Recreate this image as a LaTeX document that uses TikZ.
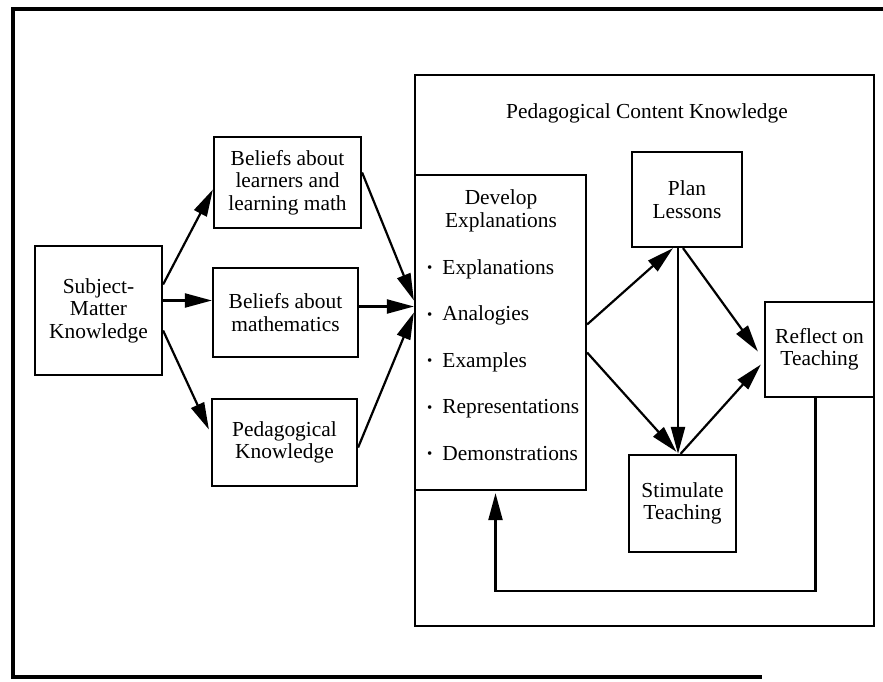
\documentclass[tikz,border=0pt]{standalone}
\usepackage{fontspec}
\setmainfont{Liberation Serif}
\usepackage{tikz}
\usetikzlibrary{shapes, arrows.meta, calc}
\tikzstyle{block} = [rectangle, draw=black, line width=2.2pt, text centered, align=center, inner sep=2pt]
\tikzstyle{item} = [anchor=base west, inner sep=0pt]
\tikzstyle{arrow} = [line width=2.2pt,->,>={Triangle[length=27pt,width=14pt]}]

\begin{document}
\begin{tikzpicture}[x=1pt, y=-1pt, font=\fontsize{21.4}{22.5}\selectfont]
				\useasboundingbox (0,0) rectangle (883,682);
				\draw [line width=3.5pt] (883,9) -- (13,9) -- (13,677) -- (762,677);

				\node (pck) [block, minimum width=459, minimum height=551] at (644.5,350.5) {};
				\node (pcktitle) at (647,113) {Pedagogical Content Knowledge};

				\node (smk) [block, minimum width=127, minimum height=129] at (98.5,310.5) {Subject-\\Matter\\Knowledge};
				\node (bl) [block, minimum width=147, minimum height=91] at (287.5,182.5) {Beliefs about\\learners and\\learning math};
				\node (bm) [block, minimum width=145, minimum height=89] at (285.5,312.5) {Beliefs about\\mathematics};
				\node (pk) [block, minimum width=145, minimum height=87] at (284.5,442.5) {Pedagogical\\Knowledge};

				\node (dev) [block, minimum width=171, minimum height=315] at (500.5,332.5) {};
				\node (devtitle) [align=center, inner sep=0pt] at (501,211) {Develop\\Explanations};
				\foreach \name [count=\i] in {Explanations,Analogies,Examples,Representations,Demonstrations}
					\node (item\i) [item] at (427,{227.5+46.5*\i}) {\raisebox{1.5pt}{\fontsize{15}{15}\selectfont\textbullet}\hspace{10pt}\name};

				\node (plan) [block, minimum width=110, minimum height=95] at (687,199.5) {Plan\\Lessons};
				\node (reflect) [block, minimum width=109, minimum height=95] at (819.5,349.5) {Reflect on\\Teaching};
				\node (stim) [block, minimum width=107, minimum height=97] at (682.5,503.5) {Stimulate\\Teaching};

				%arrows
				\draw [arrow] ($(smk.east)+(0,-26)$) -- ($(bl.west)+(0,7)$);
				\draw [arrow] ($(smk.east)+(0,-10)$) -- ($(bm.west)+(0,-12)$);
				\draw [arrow] ($(smk.east)+(0,20)$) -- ($(pk.west)+(-2,-13)$);
				\draw [arrow] ($(bl.east)+(0,-10)$) -- ($(dev.west)+(0,-32)$);
				\draw [arrow] ($(bm.east)+(0,-6)$) -- ($(dev.west)+(0,-26)$);
				\draw [arrow] ($(pk.east)+(0,5)$) -- ($(dev.west)+(0,-20)$);
				\draw [arrow] ($(dev.east)+(0,-8)$) -- ($(plan.south)+(-14,0)$);
				\draw [arrow] ($(dev.east)+(0,20)$) -- ($(stim.north)+(-6,-2)$);
				\draw [arrow] ($(plan.south)+(-9,0)$) -- ($(stim.north)+(-4.5,0)$);
				\draw [arrow] ($(plan.south)+(-4,0)$) -- ($(reflect.west)+(-6,2)$);
				\draw [arrow] ($(stim.north)+(-2,0)$) -- ($(reflect.west)+(-3,15)$);
				\draw [arrow] ($(reflect.south)+(-4,0)$) |- ($(dev.south)+(-5,100)$) -- ($(dev.south)+(-5,2)$);

\end{tikzpicture}
\end{document}
